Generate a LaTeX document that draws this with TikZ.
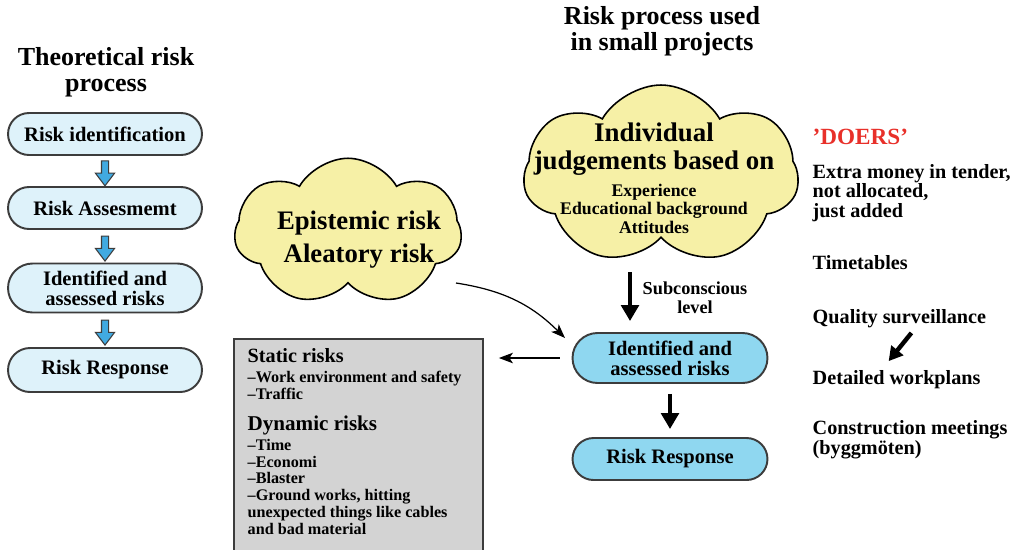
\documentclass[tikz,border=0pt]{standalone}
\usepackage{fontspec}
\setmainfont{Liberation Serif}
\usepackage{tikz}
\usetikzlibrary{shapes.symbols,shapes.misc,shapes.arrows,arrows.meta,calc}

\definecolor{cloudyellow}{RGB}{246,240,166}
\definecolor{paleblue}{RGB}{222,242,250}
\definecolor{skyblue}{RGB}{143,215,240}
\definecolor{arrowblue}{RGB}{65,170,225}
\definecolor{boxgray}{RGB}{211,211,211}
\definecolor{edgegray}{RGB}{60,60,60}
\definecolor{doersred}{RGB}{232,48,42}

\begin{document}
\begin{tikzpicture}[x=0.02cm,y=-0.02cm,thick]

			\tikzstyle{every node}=[font=\bfseries,inner sep=0pt]
			\tikzstyle{heading}=[align=center,font=\bfseries\fontsize{14.8}{15}\selectfont]
			\tikzstyle{pill}=[rounded rectangle,draw=edgegray,line width=1.1pt,align=center,minimum width=3.88cm,font=\bfseries\fontsize{11.7}{11.3}\selectfont]
			\tikzstyle{puffy}=[cloud,cloud puffs=7,cloud puff arc=120,draw=black,line width=0.9pt,fill=cloudyellow]
			\tikzstyle{downarr}=[single arrow,rotate=-90,draw=edgegray,fill=arrowblue,line width=0.6pt,inner sep=0.06cm,minimum height=0.5cm,minimum width=0.36cm,single arrow head extend=0.12cm,single arrow tip angle=74]
			\tikzstyle{fat}=[line width=2.8pt,-{Triangle[length=0.32cm,width=0.35cm]}]
			\tikzstyle{slim}=[line width=0.7pt,-{Stealth[length=8pt,width=6pt,inset=2pt]}]
			\tikzstyle{doer}=[anchor=west,align=left,font=\bfseries\fontsize{11.5}{11.3}\selectfont]

			\useasboundingbox (0,0) rectangle (1024,549);

			\node[heading] (lefttitle) at (106,72) {Theoretical risk\\process};
			\node[heading] (righttitle) at (662,31) {Risk process used\\in small projects};

			\node[pill,fill=paleblue,minimum height=0.84cm] (ri) at (105,134) {Risk identification};
			\node[pill,fill=paleblue,minimum height=0.84cm] (ra) at (105,208) {Risk Assesmemt};
			\node[pill,fill=paleblue,minimum height=0.98cm] (iar) at (105,288) {Identified and\\assessed risks};
			\node[pill,fill=paleblue,minimum height=0.88cm] (rrl) at (105,370) {Risk Response};
			\node[downarr] (a1) at ($(ri.south)!0.5!(ra.north)$) {};
			\node[downarr] (a2) at ($(ra.south)!0.5!(iar.north)$) {};
			\node[downarr] (a3) at ($(iar.south)!0.5!(rrl.north)$) {};

			\node[puffy,minimum width=4.54cm,minimum height=2.95cm] (epi) at (348,232) {};
			\node[align=center,font=\bfseries\fontsize{15.2}{18.7}\selectfont] (epitext) at (359,240) {Epistemic risk\\Aleatory risk};

			\node[puffy,minimum width=5.5cm,minimum height=3.6cm] (indiv) at (661,175) {};
			\node[align=center,font=\bfseries\fontsize{10.1}{10.6}\selectfont] (indivtext) at (654,178)
				{{\fontsize{15.3}{10.6}\selectfont Individual}\\[4.1pt]
				 {\fontsize{15.3}{10.6}\selectfont judgements based on}\\[4.7pt]
				 Experience\\Educational background\\Attitudes};

			\node[pill,fill=skyblue,minimum width=3.9cm,minimum height=1.0cm] (idr) at (670,358) {Identified and\\assessed risks};
			\node[pill,fill=skyblue,minimum width=3.9cm,minimum height=0.84cm] (rr) at (670,459) {Risk Response};

			\node[draw=edgegray,line width=1.1pt,fill=boxgray,anchor=north west,minimum width=4.98cm,minimum height=4.3cm] (gray) at (233,338) {};
			\node[anchor=north west,align=left,font=\bfseries\fontsize{9.2}{9.6}\selectfont] (graytext) at (247,348)
				{{\fontsize{11.5}{9.6}\selectfont Static risks}\\[1.7pt]
				 –Work environment and safety\\
				 –Traffic\\[8pt]
				 {\fontsize{12}{9.6}\selectfont Dynamic risks}\\[1.7pt]
				 –Time\\
				 –Economi\\
				 –Blaster\\
				 –Ground works, hitting\\
				 unexpected things like cables\\
				 and bad material};

			\node[align=center,font=\bfseries\fontsize{10.4}{10.8}\selectfont] (subtext) at (695,298) {Subconscious\\level};

			\node[anchor=west,font=\bfseries\fontsize{13.2}{14}\selectfont,text=doersred] (doers) at (812,137) {'DOERS'};
			\node[doer] (money) at (812,193) {Extra money in tender,\\not allocated,\\just added};
			\node[doer] (time) at (812,263) {Timetables};
			\node[doer] (qual) at (812,319) {Quality surveillance};
			\node[doer] (det) at (812,380) {Detailed workplans};
			\node[doer] (meet) at (812,440) {Construction meetings\\(byggmöten)};

			\draw[fat] ($(indiv.center)+(-31,97)$) -- ($(idr.north)+(-40,-11)$);
			\draw[fat] ($(idr.south)+(0,10)$) -- ($(rr.north)+(0,-8)$);
			\draw[fat,line width=2.5pt,-{Triangle[length=0.28cm,width=0.3cm]}] ($(qual.south)+(12,4)$) -- ($(det.north)+(-8,-9)$);
			\draw[slim] ($(epi.center)+(108,51)$) to[bend left=18] ($(idr.center)+(-105,-20)$);
			\draw[slim] ($(idr.west)+(-12,0)$) -- ($(idr.west -| gray.east)+(15,0)$);
\end{tikzpicture}
\end{document}
